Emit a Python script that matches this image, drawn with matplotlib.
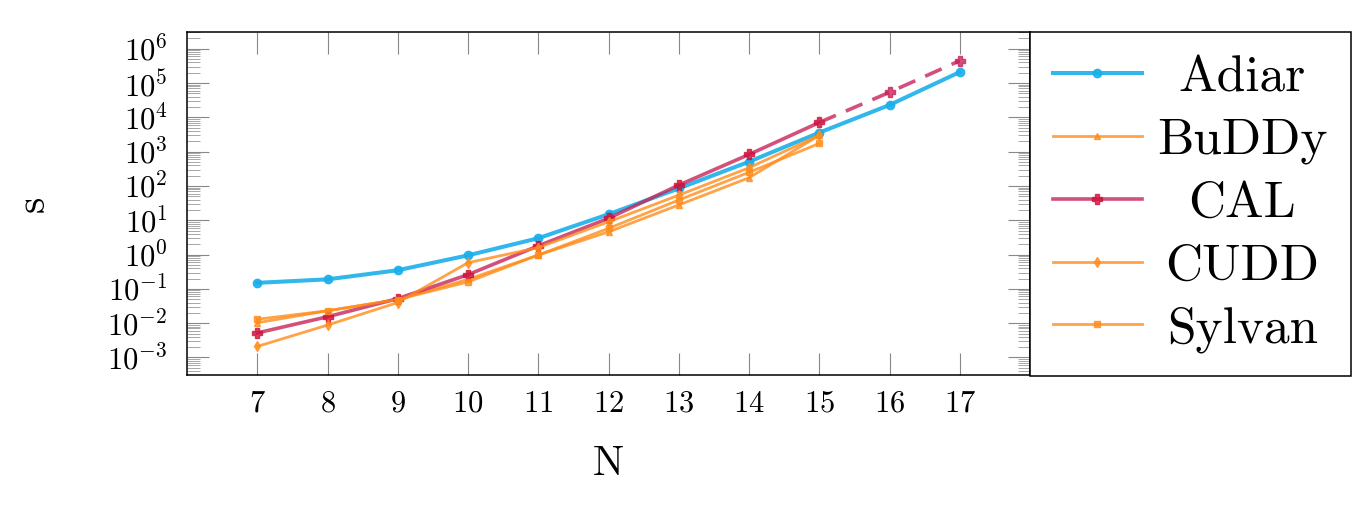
import numpy as np
import matplotlib
matplotlib.use('Agg')
import matplotlib.pyplot as plt
from matplotlib.ticker import LogLocator, NullFormatter

# problem size N
n_all = [7, 8, 9, 10, 11, 12, 13, 14, 15, 16, 17]
n_lib = [7, 8, 9, 10, 11, 12, 13, 14, 15]
n_cal_ext = [15, 16, 17]

# running time in seconds
adiar = [0.15, 0.19, 0.35, 0.95, 3.0, 15, 85, 510, 3600, 23000, 210000]
buddy = [0.0103, 0.023, 0.049, 0.19, 0.97, 4.6, 28, 174, 3000]
cal = [0.0052, 0.0154, 0.052, 0.26, 1.8, 11.4, 106, 830, 7100]
cal_ext = [7100, 54000, 450000]
cudd = [0.0021, 0.0088, 0.040, 0.58, 1.6, 9.0, 54, 340, 3000]
sylvan = [0.013, 0.023, 0.049, 0.16, 0.97, 5.8, 39, 250, 1740]

labels = ['Adiar', 'BuDDy', 'CAL', 'CUDD', 'Sylvan']

plt.rcParams.update({
    'font.family': 'serif',
    'font.serif': ['cmr10'],
    'mathtext.fontset': 'cm',
    'axes.formatter.use_mathtext': True,
    'axes.unicode_minus': False,
})

blue, crimson, orange = '#1AAFEA', '#C8245A', '#FF8C1A'

fig = plt.figure(figsize=(13.65, 5.07), dpi=100)
ax = fig.add_axes([0.137, 0.2604, 0.6176, 0.6765])

h_adiar, = ax.plot(n_all, adiar, color=blue, lw=2.9, alpha=0.9,
                   marker='o', ms=6, mec=blue, mfc=blue, zorder=3)
h_buddy, = ax.plot(n_lib, buddy, color=orange, lw=2.0, alpha=0.8,
                   marker='^', ms=5, zorder=4)
h_cal, = ax.plot(n_lib, cal, color=crimson, lw=2.6, alpha=0.8,
                 marker='P', ms=7, mfc='#D0103A', mec='#D0103A', zorder=4)
ax.plot(n_cal_ext, cal_ext, color=crimson, lw=2.6, alpha=0.8, ls=(0, (5, 3)),
        zorder=4)
ax.plot(n_cal_ext[1:], cal_ext[1:], ls='none', alpha=0.8,
        marker='P', ms=7, mfc=crimson, mec=crimson, zorder=4)
h_cudd, = ax.plot(n_lib, cudd, color=orange, lw=2.0, alpha=0.8,
                  marker='d', ms=5, zorder=4)
h_sylvan, = ax.plot(n_lib, sylvan, color=orange, lw=2.0, alpha=0.8,
                    marker='s', ms=4.5, zorder=4)

ax.set_yscale('log')
ax.set_xlim(6, 18)
ax.set_ylim(10 ** -3.51, 10 ** 6.49)
ax.set_xticks(n_all)
ax.yaxis.set_major_locator(LogLocator(base=10, numticks=30))
ax.yaxis.set_minor_locator(LogLocator(base=10, subs=np.arange(2, 10), numticks=200))
ax.yaxis.set_minor_formatter(NullFormatter())

ax.tick_params(axis='both', which='major', direction='in', length=16, width=0.8,
               color='#888888', top=True, right=True)
ax.tick_params(axis='y', which='minor', direction='in', length=9, width=0.6,
               color='#999999', left=True, right=True)
ax.tick_params(axis='x', which='major', labelsize=22, pad=11)
ax.tick_params(axis='y', which='major', labelsize=22, pad=14)
for sp in ax.spines.values():
    sp.set_linewidth(1.1)

ax.set_xlabel('N', fontsize=30, labelpad=20)
ax.set_ylabel('s', fontsize=30, labelpad=40)

leg = ax.legend([h_adiar, h_buddy, h_cal, h_cudd, h_sylvan], labels,
                loc='upper left', bbox_to_anchor=(1.0, 1.0), borderaxespad=0,
                fontsize=37, fancybox=False, edgecolor='black', framealpha=1,
                handlelength=1.72, handletextpad=0.3, labelspacing=0.325,
                borderpad=0.45)
leg.get_frame().set_linewidth(1.1)

# centre the legend texts in their column
fig.canvas.draw()
r = fig.canvas.get_renderer()
texts = leg.get_texts()
widths = [t.get_window_extent(r).width for t in texts]
for t, w in zip(texts, widths):
    t.set_x((max(widths) - w) / 2)

fig.savefig('out.png', dpi=100)
